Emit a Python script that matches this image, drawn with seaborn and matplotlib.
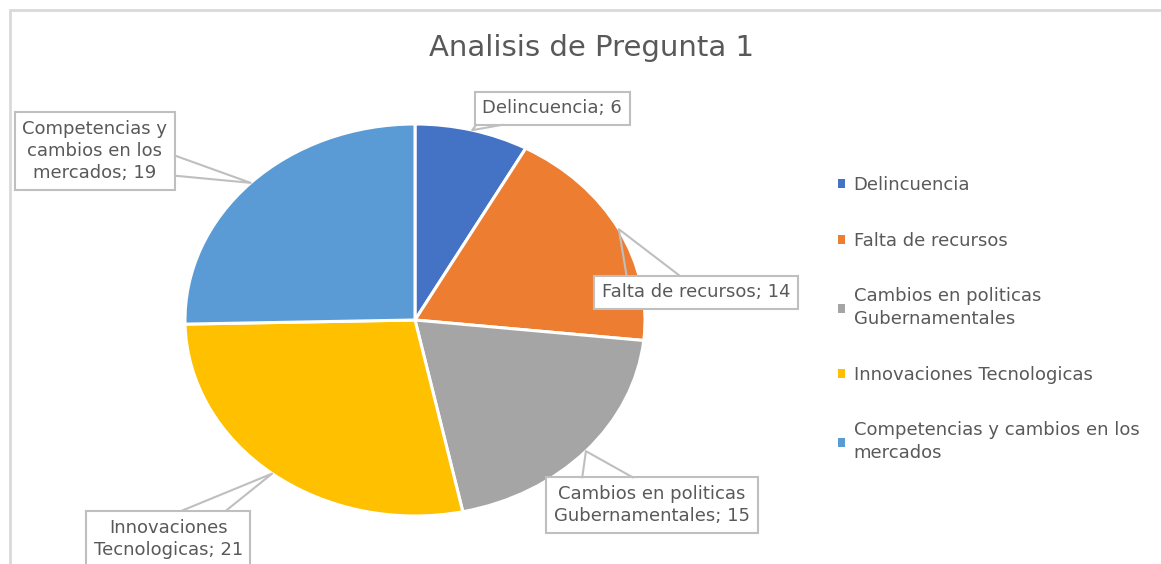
import numpy as np
import matplotlib.pyplot as plt
import seaborn as sns
from matplotlib.lines import Line2D
from matplotlib.patches import Patch

sns.set_theme(style='white')
plt.rcParams['font.family'] = ['DejaVu Sans']

# Data
categorias = ['Delincuencia', 'Falta de recursos', 'Cambios en politicas Gubernamentales',
              'Innovaciones Tecnologicas', 'Competencias y cambios en los mercados']
valores = [6, 14, 15, 21, 19]
etiquetas_pie = ['Delincuencia', 'Falta de recursos', 'Cambios en politicas\nGubernamentales',
                 'Innovaciones\nTecnologicas', 'Competencias y\ncambios en los\nmercados']
etiquetas_leyenda = ['Delincuencia', 'Falta de recursos', 'Cambios en politicas\nGubernamentales',
                     'Innovaciones Tecnologicas', 'Competencias y cambios en los\nmercados']
colores = ['#4472C4', '#ED7D31', '#A5A5A5', '#FFC000', '#5B9BD5']
titulo = 'Analisis de Pregunta 1'

# callout layout: label offset from wedge edge (pixels) and which box edge the leader leaves from
offsets = [(80, 22), (77, -63), (66, -54), (-104, -65), (-156, 32)]
salidas = [('bottom', 0.01, 0.18), ('top', 0.16, 0.42), ('top', 0.17, 0.41),
           ('top', 0.58, 0.85), ('right', 0.44, 0.18)]

txt_color = '#595959'
borde = '#bfbfbf'
W, H = 1161, 564
fig = plt.figure(figsize=(W / 100, H / 100), dpi=100)

# pie is stretched horizontally, like the original
cx, cy, rx, ry = 415, 320, 230, 196
ax = fig.add_axes([(cx - rx) / W, (H - cy - ry) / H, 2 * rx / W, 2 * ry / H])
wedges, _ = ax.pie(valores, colors=colores, startangle=90, counterclock=False,
                   wedgeprops=dict(edgecolor='white', linewidth=2.2))
ax.set_aspect('auto')
ax.set_xlim(-1, 1)
ax.set_ylim(-1, 1)
ax.axis('off')

anotaciones = []
for w, lab, v, off in zip(wedges, etiquetas_pie, valores, offsets):
    mid = np.deg2rad((w.theta1 + w.theta2) / 2)
    punto = (np.cos(mid), np.sin(mid))
    a = ax.annotate(f'{lab}; {v}', xy=punto, xytext=off, textcoords='offset pixels',
                    ha='center', va='center', multialignment='center', fontsize=13,
                    color=txt_color, linespacing=1.3, annotation_clip=False, zorder=5,
                    bbox=dict(boxstyle='square,pad=0.42', fc='white', ec=borde, lw=1.5))
    anotaciones.append((a, punto))

# callout leaders: from the box edge to the wedge
fig.canvas.draw()
renderer = fig.canvas.get_renderer()
to_fig = fig.transFigure.inverted()
for (a, punto), (lado, f1, f2) in zip(anotaciones, salidas):
    bb = a.get_bbox_patch().get_window_extent(renderer)
    if lado == 'top':
        b1, b2 = (bb.x0 + f1 * bb.width, bb.y1), (bb.x0 + f2 * bb.width, bb.y1)
    elif lado == 'bottom':
        b1, b2 = (bb.x0 + f1 * bb.width, bb.y0), (bb.x0 + f2 * bb.width, bb.y0)
    else:
        b1, b2 = (bb.x1, bb.y0 + f1 * bb.height), (bb.x1, bb.y0 + f2 * bb.height)
    apex = ax.transData.transform(punto)
    pts = to_fig.transform(np.array([b1, apex, b2]))
    fig.add_artist(Line2D(pts[:, 0], pts[:, 1], color=borde, lw=1.5, zorder=4))

fig.text(592 / W, 1 - 56 / H, titulo, ha='center', va='baseline', fontsize=21, color=txt_color)

handles = [Patch(facecolor=c, edgecolor='none') for c in colores]
leg = fig.legend(handles, etiquetas_leyenda, loc='upper left', bbox_to_anchor=(822 / W, 1 - 160 / H),
                 frameon=False, fontsize=13, labelcolor=txt_color, handlelength=0.4, handleheight=0.4,
                 handletextpad=0.45, labelspacing=2.08)
for t in leg.get_texts():
    t.set_linespacing(1.35)

# chart frame (left and top edges visible)
fig.add_artist(Line2D([10 / W, 10 / W], [0, 1 - 10 / H], color='#d9d9d9', lw=2))
fig.add_artist(Line2D([10 / W, 1], [1 - 10 / H, 1 - 10 / H], color='#d9d9d9', lw=2))

fig.savefig('out.png', dpi=100, facecolor='white')
